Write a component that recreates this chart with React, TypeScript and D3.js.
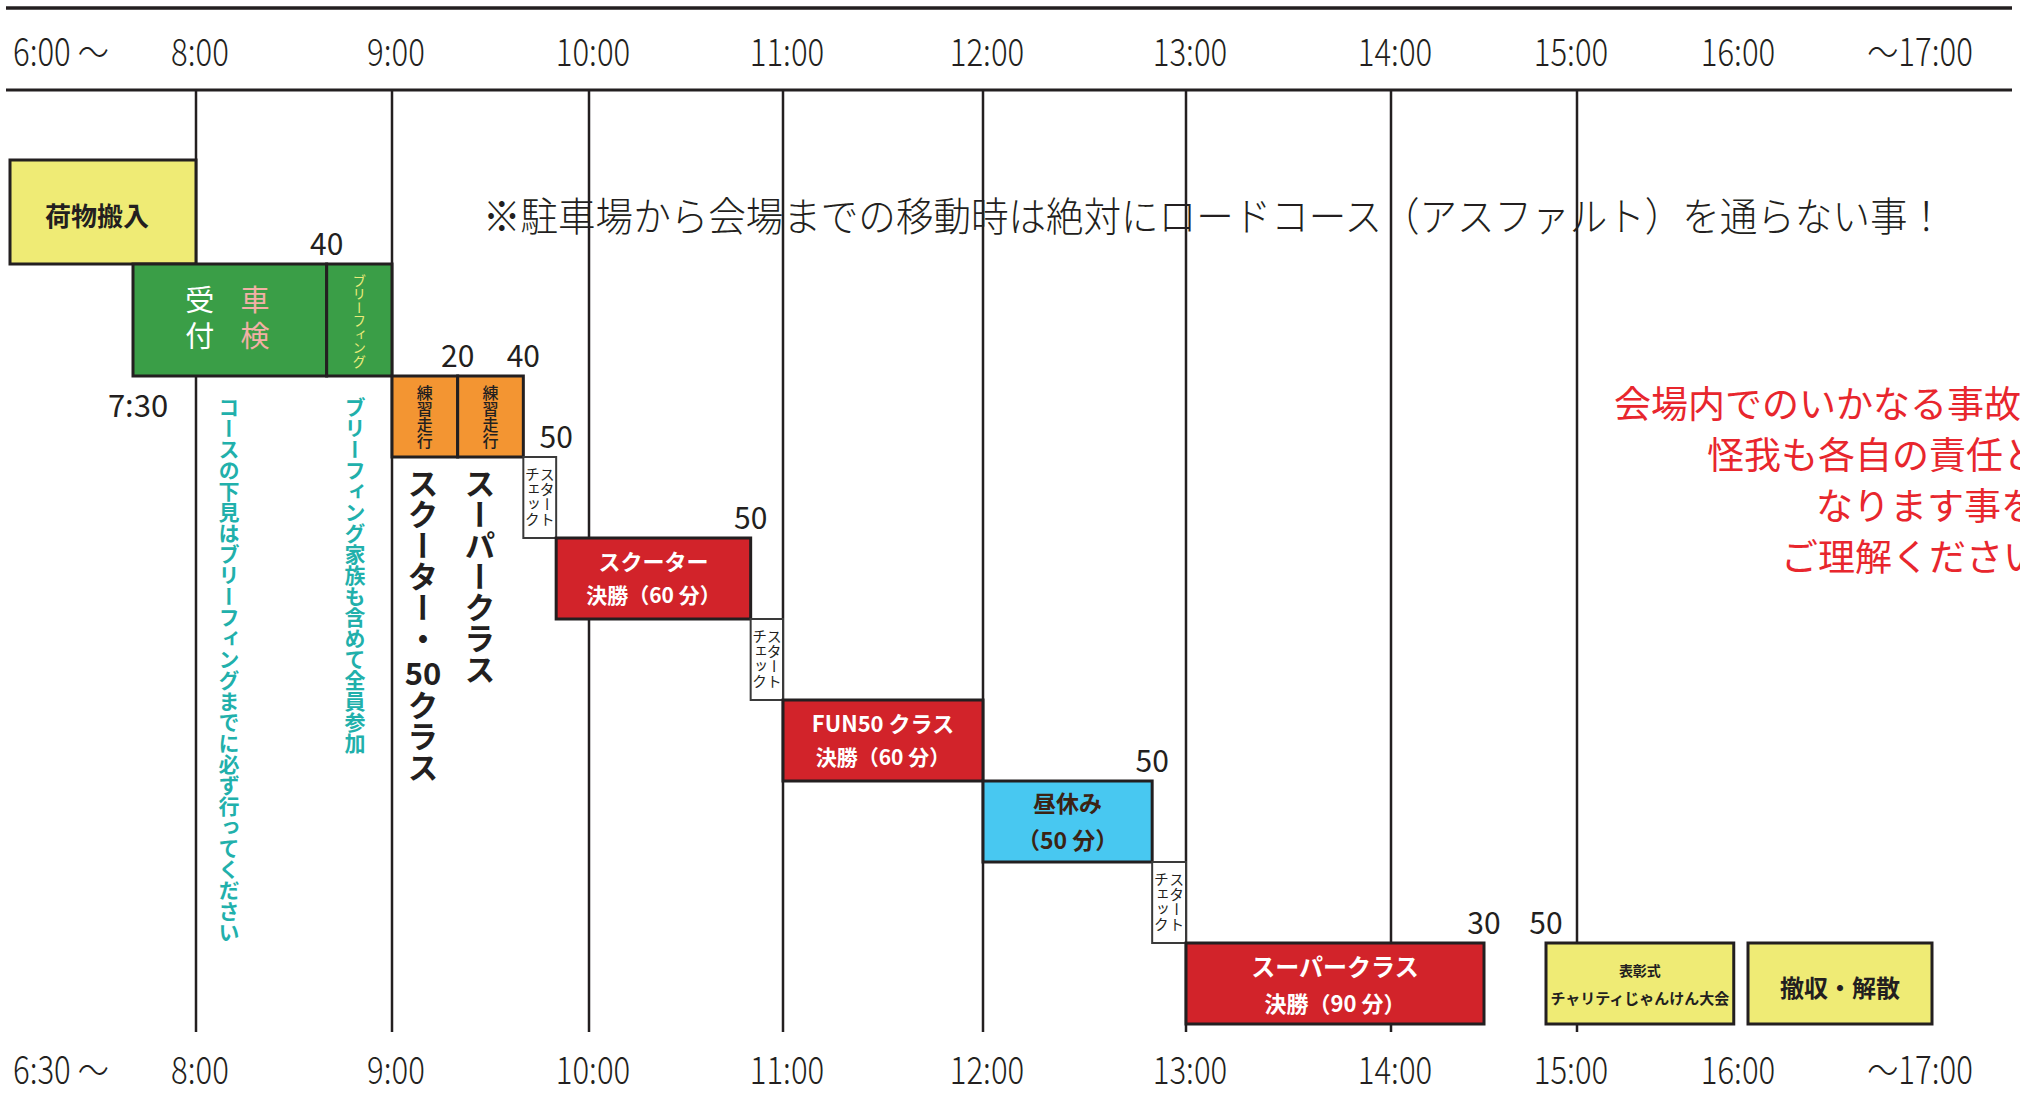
import React from 'react';
import * as d3 from 'd3';

const W = 2020;
const H = 1097;
const JP = '"Noto Sans CJK JP", "Noto Sans CJK SC", sans-serif';
const INK = '#231f20';

// Hand-drawn time axis: hour breakpoints and where the chart draws them
const axisHours = [6.5, 7.5, 8, 9, 10, 11, 12, 13, 14, 15, 16, 17];
const axisRange = [10, 133, 196, 392, 589, 783, 983, 1186, 1391, 1577, 1748, 1932];

// grid lines (hours)
const gridHours = [8, 9, 10, 11, 12, 13, 14, 15];

// header / footer tick labels
const tickHours = [6.5, 8, 9, 10, 11, 12, 13, 14, 15, 16, 17];
const headerLabels = ['6:00 ～', '8:00', '9:00', '10:00', '11:00', '12:00', '13:00', '14:00', '15:00', '16:00', '～17:00'];
const footerLabels = ['6:30 ～', '8:00', '9:00', '10:00', '11:00', '12:00', '13:00', '14:00', '15:00', '16:00', '～17:00'];

// schedule blocks
const taskStart = ['6:30', '7:30', '8:40', '9:00', '9:20', '9:40', '9:50', '10:50', '11:00', '12:00', '12:50', '13:00', '14:50', '16:00'];
const taskEnd = ['8:00', '8:40', '9:00', '9:20', '9:40', '9:50', '10:50', '11:00', '12:00', '12:50', '13:00', '14:30', '15:55', '17:00'];
const taskRow = [0, 1, 1, 2, 2, 3, 4, 5, 6, 7, 8, 9, 9, 9];
const taskKind = ['load', 'reception', 'briefing', 'practice', 'practice', 'check', 'final', 'check', 'final', 'lunch', 'check', 'final', 'ceremony', 'close'];
const taskLines = [
  ['荷物搬入'],
  ['受付', '車検'],
  ['ブリーフィング'],
  ['練習走行'],
  ['練習走行'],
  ['スタート', 'チェック'],
  ['スクーター', '決勝（60 分）'],
  ['スタート', 'チェック'],
  ['FUN50 クラス', '決勝（60 分）'],
  ['昼休み', '（50 分）'],
  ['スタート', 'チェック'],
  ['スーパークラス', '決勝（90 分）'],
  ['表彰式', 'チャリティじゃんけん大会'],
  ['撤収・解散'],
];

// minute marks written above block boundaries
const markText = ['40', '20', '40', '50', '50', '50', '30', '50'];
const markTime = ['8:40', '9:20', '9:40', '9:50', '10:50', '12:50', '14:30', '14:50'];
const markRow = [1, 2, 2, 3, 4, 7, 9, 9];

// row boundaries (row index breakpoints)
const rowIdx = [0, 1, 2, 10];
const rowPos = [160, 264, 376, 1024];

const kindFill: Record<string, string> = {
  load: '#efeb75',
  close: '#efeb75',
  ceremony: '#efeb75',
  reception: '#3a9e47',
  briefing: '#3a9e47',
  practice: '#f39532',
  check: '#ffffff',
  final: '#d2232a',
  lunch: '#48c8f1',
};

const notice = '※駐車場から会場までの移動時は絶対にロードコース（アスファルト）を通らない事！';
const warnLines = ['会場内でのいかなる事故、', '怪我も各自の責任と', 'なります事を', 'ご理解ください。'];
const warnX = [1614, 1707, 1816, 1781];
const tealLines = ['コースの下見はブリーフィングまでに必ず行ってください', 'ブリーフィング家族も含めて全員参加'];

const parseT = (s: string) => {
  const [h, m] = s.split(':').map(Number);
  return h + m / 60;
};

function VText(props: { x: number; y: number; text: string; size: number; fill: string; weight?: number }) {
  const { x, y, text, size, fill, weight = 400 } = props;
  return (
    <text
      x={x}
      y={y}
      fontSize={size}
      fill={fill}
      fontWeight={weight}
      fontFamily={JP}
      style={{ writingMode: 'vertical-rl' as any }}
    >
      {text}
    </text>
  );
}

export default function App() {
  const x = d3.scaleLinear().domain(axisHours).range(axisRange);
  const y = d3.scaleLinear().domain(rowIdx).range(rowPos);

  const gridTop = 90;
  const gridBottom = 1032;

  const content = (i: number, x0: number, x1: number, y0: number, y1: number) => {
    const kind = taskKind[i];
    const lines = taskLines[i];
    const cx = (x0 + x1) / 2;
    if (kind === 'load' || kind === 'close') {
      const fs = kind === 'load' ? 26 : 24;
      const dx = kind === 'load' ? -6 : 0;
      return (
        <text x={cx + dx} y={(y0 + y1) / 2 + fs * 0.36 + 5} textAnchor="middle" fontSize={fs} fontWeight={700} fontFamily={JP} fill={INK}>
          {lines[0]}
        </text>
      );
    }
    if (kind === 'reception') {
      const a = lines[0].split('');
      const b = lines[1].split('');
      const c1 = x0 + (x1 - x0) * 0.345;
      const c2 = x0 + (x1 - x0) * 0.63;
      return (
        <g fontFamily={JP} fontSize={29} textAnchor="middle">
          {a.map((ch, k) => (
            <text key={'a' + k} x={c1} y={y0 + 36 + k * 36 + 11} fill="#ffffff">{ch}</text>
          ))}
          {b.map((ch, k) => (
            <text key={'b' + k} x={c2} y={y0 + 36 + k * 36 + 11} fill="#f2b0a5">{ch}</text>
          ))}
        </g>
      );
    }
    if (kind === 'briefing') {
      return <VText x={cx} y={y0 + 10} text={lines[0]} size={13.5} fill="#eceb7a" />;
    }
    if (kind === 'practice') {
      return <VText x={cx} y={y0 + 9} text={lines[0]} size={16} fill={INK} weight={500} />;
    }
    if (kind === 'check') {
      const off = (x1 - x0) * 0.23;
      return (
        <g>
          <VText x={cx + off} y={y0 + 10} text={lines[0]} size={15} fill={INK} />
          <VText x={cx - off} y={y0 + 10} text={lines[1]} size={15} fill={INK} />
        </g>
      );
    }
    if (kind === 'final' || kind === 'lunch') {
      const col = kind === 'final' ? '#ffffff' : '#3b2314';
      const big = kind === 'final' && i === 11;
      const fs1 = kind === 'lunch' ? 23 : big ? 24 : 22;
      const fs2 = kind === 'lunch' ? 23 : big ? 22 : 21;
      const c1 = kind === 'lunch' ? y0 + 23 : y0 + 24;
      const c2 = kind === 'lunch' ? y0 + 60 : big ? y0 + 61 : y0 + 57;
      return (
        <g fontFamily={JP} fontWeight={700} fill={col} textAnchor="middle">
          <text x={cx} y={c1 + fs1 * 0.36} fontSize={fs1}>{lines[0]}</text>
          <text x={cx} y={c2 + fs2 * 0.36} fontSize={fs2}>{lines[1]}</text>
        </g>
      );
    }
    if (kind === 'ceremony') {
      return (
        <g fontFamily={JP} fontWeight={700} fill={INK} textAnchor="middle">
          <text x={cx} y={y0 + 28 + 5} fontSize={14}>{lines[0]}</text>
          <text x={cx} y={y0 + 56 + 5} fontSize={15}>{lines[1]}</text>
        </g>
      );
    }
    return null;
  };

  const numFont = JP;

  return (
    <svg width={W} height={H} viewBox={`0 0 ${W} ${H}`} style={{ position: 'absolute', left: 0, top: 0, background: '#fff' }}>
      <rect x={0} y={0} width={W} height={H} fill="#ffffff" />
      {/* header rules */}
      <line x1={6} x2={2012} y1={8} y2={8} stroke={INK} strokeWidth={3.5} />
      <line x1={6} x2={2012} y1={90} y2={90} stroke={INK} strokeWidth={3} />

      {/* header & footer labels */}
      {tickHours.map((h, i) => {
        const first = i === 0;
        const last = i === tickHours.length - 1;
        const nudge = first ? 3 : last ? -12 : h === 15 ? -6 : h === 16 ? -10 : 4;
        const tx = x(h) + nudge;
        return (
          <g key={'t' + i} fontFamily={numFont} fontSize={38} fontWeight={300} fill={INK}>
            <text transform={`translate(${tx},66) scale(0.82,1)`} textAnchor={first ? 'start' : 'middle'}>
              {headerLabels[i]}
            </text>
            <text transform={`translate(${tx},1084) scale(0.82,1)`} textAnchor={first ? 'start' : 'middle'}>
              {footerLabels[i]}
            </text>
          </g>
        );
      })}

      {/* grid lines */}
      {gridHours.map((h) => (
        <line key={'g' + h} x1={x(h)} x2={x(h)} y1={gridTop} y2={gridBottom} stroke={INK} strokeWidth={2.5} />
      ))}

      {/* notice */}
      <text x={483} y={231} fontSize={40} fontWeight={300} fontFamily={JP} fill={INK} textLength={1462} lengthAdjust="spacingAndGlyphs">
        {notice}
      </text>

      {/* blocks */}
      {taskStart.map((s, i) => {
        const x0 = x(parseT(s));
        const x1 = x(parseT(taskEnd[i]));
        const y0 = y(taskRow[i]);
        const y1 = y(taskRow[i] + 1);
        const isCheck = taskKind[i] === 'check';
        return (
          <g key={'b' + i}>
            <rect
              x={x0}
              y={y0}
              width={x1 - x0}
              height={y1 - y0}
              fill={kindFill[taskKind[i]]}
              stroke={isCheck ? '#3a3a3a' : INK}
              strokeWidth={isCheck ? 2 : 3}
            />
            {content(i, x0, x1, y0, y1)}
          </g>
        );
      })}

      {/* minute marks */}
      {markText.map((m, i) => (
        <text key={'m' + i} x={x(parseT(markTime[i]))} y={y(markRow[i]) - 9} textAnchor="middle" fontSize={30} fontFamily={numFont} fill={INK}>
          {m}
        </text>
      ))}
      <text x={x(7.5) + 5} y={y(2) + 41} textAnchor="middle" fontSize={31} fontFamily={numFont} fill={INK}>
        7:30
      </text>

      {/* teal vertical notes */}
      <VText x={229} y={397} text={tealLines[0]} size={21} fill="#21b0ab" weight={700} />
      <VText x={355} y={397} text={tealLines[1]} size={21} fill="#21b0ab" weight={700} />

      {/* class columns */}
      <VText x={423} y={468} text="スクーター・" size={31} fill={INK} weight={700} />
      <text x={423} y={685} textAnchor="middle" fontSize={31} fontWeight={700} fontFamily={JP} fill={INK}>50</text>
      <VText x={423} y={690} text="クラス" size={31} fill={INK} weight={700} />
      <VText x={480} y={468} text="スーパークラス" size={31} fill={INK} weight={700} />

      {/* red warning */}
      {warnLines.map((t, i) => (
        <text key={'w' + i} x={warnX[i]} y={418 + i * 51} fontSize={37} fontFamily={JP} fill="#e8262d">
          {t}
        </text>
      ))}
    </svg>
  );
}
